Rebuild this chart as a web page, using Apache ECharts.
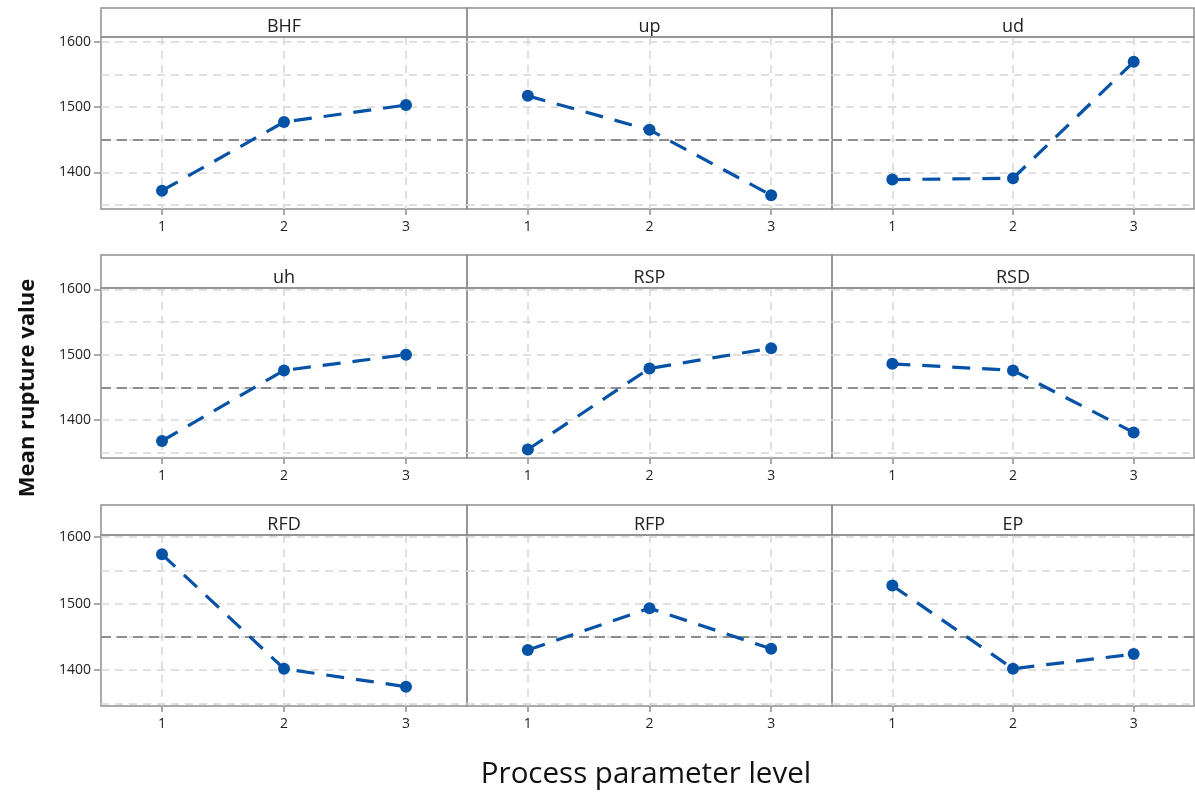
<!DOCTYPE html>
<html>
<head>
<meta charset="utf-8">
<script src="https://cdn.jsdelivr.net/npm/echarts@6/dist/echarts.min.js"></script>
<style>
  html, body { margin: 0; padding: 0; background: #ffffff; }
  #chart { width: 1195px; height: 793px; }
</style>
</head>
<body>
<div id="chart"></div>
<script>
// Main effects of each process parameter on the mean rupture value
const factors = ['BHF', 'up', 'ud', 'uh', 'RSP', 'RSD', 'RFD', 'RFP', 'EP'];
const levels = [1, 2, 3];

const BHF = [1372, 1477, 1503];
const up  = [1517, 1465, 1365];
const ud  = [1389, 1391, 1569];
const uh  = [1368, 1476, 1500];
const RSP = [1355, 1479, 1510];
const RSD = [1486, 1476, 1381];
const RFD = [1574, 1402, 1375];
const RFP = [1430, 1493, 1432];
const EP  = [1527, 1402, 1424];

const grandMean = 1450;
const yTickLabels = [1400, 1500, 1600];
const yGridValues = [1350, 1400, 1450, 1500, 1550, 1600];

const panelValues = [BHF, up, ud, uh, RSP, RSD, RFD, RFP, EP];

// Panel layout (3 x 3 grid with a header strip on each panel)
const colLeft = [101, 467, 832];
const colWidth = [366, 365, 362];
const rowTop = [8, 255, 505];
const stripBottom = [37, 288, 535];
const rowBottom = [209, 458, 706];
const yExtent = [[1344, 1607], [1342, 1602], [1346, 1603]];

const FONT = '"Open Sans", "Noto Sans", sans-serif';
const frameColor = '#8f8f8f';
const gridColor = '#d6d6d6';
const meanColor = '#8e8e8e';
const lineColor = '#0652a6';

const grids = [], xAxes = [], yAxes = [], series = [], graphics = [];

factors.forEach((name, i) => {
  const r = Math.floor(i / 3), c = i % 3;
  const top = stripBottom[r];
  const height = rowBottom[r] - stripBottom[r];

  grids.push({
    left: colLeft[c], top: top, width: colWidth[c], height: height,
    show: true, borderColor: frameColor, borderWidth: 1.5,
    backgroundColor: 'transparent', containLabel: false
  });

  xAxes.push({
    gridIndex: i, type: 'value', min: 0.5, max: 3.5, interval: 0.5,
    axisLine: { show: false },
    axisTick: { show: true, customValues: levels, length: 6, lineStyle: { color: frameColor, width: 1.5 } },
    axisLabel: { customValues: levels, margin: 11, fontSize: 14, color: '#222', fontFamily: FONT },
    splitLine: { show: true, lineStyle: { color: gridColor, width: 1.5, type: [8, 6] } }
  });

  const yMain = yAxes.length;
  yAxes.push({
    gridIndex: i, type: 'value', min: yExtent[r][0], max: yExtent[r][1],
    axisLine: { show: false },
    axisTick: { show: false, customValues: yGridValues },
    axisLabel: { show: false },
    splitLine: { show: true, lineStyle: { color: gridColor, width: 1.5, type: [8, 6] } }
  });

  if (c === 0) {
    yAxes.push({
      gridIndex: i, type: 'value', min: yExtent[r][0], max: yExtent[r][1], position: 'left',
      axisLine: { show: false },
      axisTick: { show: true, customValues: yTickLabels, length: 7, lineStyle: { color: frameColor, width: 1.5 } },
      axisLabel: {
        customValues: yTickLabels, margin: 10, fontSize: 14, color: '#222', fontFamily: FONT,
        formatter: (v) => String(v)
      },
      splitLine: { show: false }
    });
  }

  series.push({
    name: name, type: 'line', xAxisIndex: i, yAxisIndex: yMain,
    data: levels.map((lv, k) => [lv, panelValues[i][k]]),
    symbol: 'circle', symbolSize: 12,
    itemStyle: { color: lineColor },
    lineStyle: { color: lineColor, width: 3.2, type: [18, 12] },
    z: 5,
    animation: false,
    markLine: {
      silent: true, symbol: 'none', label: { show: false },
      lineStyle: { color: meanColor, width: 2.2, type: [10, 6] },
      data: [{ yAxis: grandMean }],
      z: 3
    }
  });

  // header strip with the parameter name
  graphics.push({
    type: 'rect', silent: true, z: 10,
    shape: { x: colLeft[c], y: rowTop[r], width: colWidth[c], height: stripBottom[r] - rowTop[r] },
    style: { fill: 'transparent', stroke: frameColor, lineWidth: 1.5 }
  });
  graphics.push({
    type: 'text', silent: true, z: 11,
    x: colLeft[c] + colWidth[c] / 2, y: stripBottom[r] - 1,
    style: { text: name, fill: '#222', font: '18px ' + FONT, textAlign: 'center', textVerticalAlign: 'bottom' }
  });
});

graphics.push({
  type: 'text', silent: true,
  x: 28, y: 388, rotation: Math.PI / 2,
  style: { text: 'Mean rupture value', fill: '#111', font: 'bold 22px ' + FONT, textAlign: 'center', textVerticalAlign: 'middle' }
});
graphics.push({
  type: 'text', silent: true,
  x: 646, y: 775,
  style: { text: 'Process parameter level', fill: '#111', font: '29.5px ' + FONT, textAlign: 'center', textVerticalAlign: 'middle' }
});

const chart = echarts.init(document.getElementById('chart'), null, { renderer: 'canvas' });
chart.setOption({
  backgroundColor: '#ffffff',
  animation: false,
  grid: grids,
  xAxis: xAxes,
  yAxis: yAxes,
  series: series,
  graphic: graphics
});
</script>
</body>
</html>
